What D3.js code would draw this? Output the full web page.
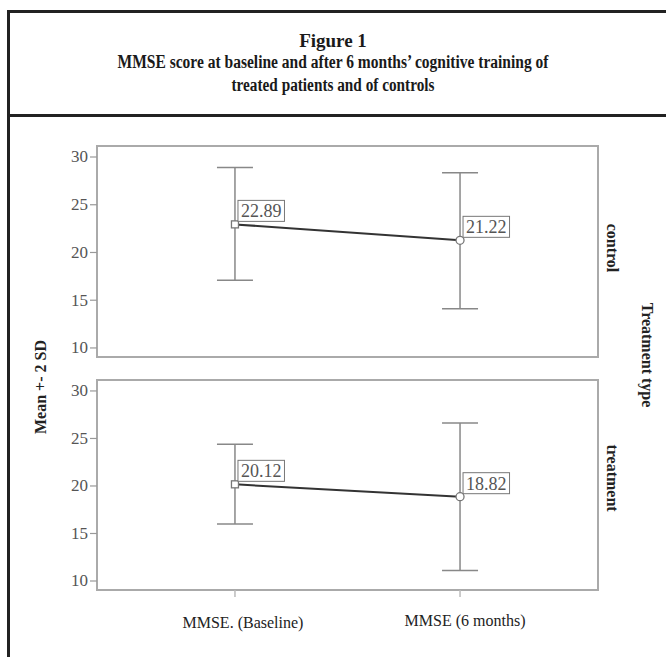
<!DOCTYPE html>
<html>
<head>
<meta charset="utf-8">
<script src="https://cdn.jsdelivr.net/npm/d3@7"></script>
<style>
  html, body { margin: 0; padding: 0; background: #fff; }
  svg { display: block; }
</style>
</head>
<body>
<div id="chart"></div>
<script>
// ---------------- data ----------------
const titleLines = [
  "Figure 1",
  "MMSE score at baseline and after 6 months’ cognitive training of",
  "treated patients and of controls"
];
const categories = ["MMSE. (Baseline)", "MMSE (6 months)"];
const groups = ["control", "treatment"];
const controlMean = [22.89, 21.22];
const controlUpper = [28.84, 28.31];
const controlLower = [17.05, 14.05];
const treatmentMean = [20.12, 18.82];
const treatmentUpper = [24.34, 26.57];
const treatmentLower = [15.95, 11.05];
const yTicks = [10, 15, 20, 25, 30];
const yLabel = "Mean +- 2 SD";
const facetLabel = "Treatment type";

const seriesByGroup = {
  control: { mean: controlMean, upper: controlUpper, lower: controlLower },
  treatment: { mean: treatmentMean, upper: treatmentUpper, lower: treatmentLower }
};

// ---------------- layout ----------------
const SERIF = "'Liberation Serif', 'Times New Roman', serif";
const W = 666, H = 657;
const plotLeft = 97, plotRight = 598;
const panels = [
  { group: "control", top: 146, bottom: 357, labelY: 248 },
  { group: "treatment", top: 380, bottom: 590, labelY: 478 }
];

const svg = d3.select("#chart").append("svg")
  .attr("width", W).attr("height", H);

svg.append("rect").attr("width", W).attr("height", H).attr("fill", "#fff");

// outer frame
svg.append("line").attr("x1", 8.5).attr("x2", W).attr("y1", 11.5).attr("y2", 11.5)
  .attr("stroke", "#222").attr("stroke-width", 3);
svg.append("line").attr("x1", 8.5).attr("x2", 8.5).attr("y1", 10).attr("y2", H)
  .attr("stroke", "#222").attr("stroke-width", 3);
svg.append("line").attr("x1", 8.5).attr("x2", W).attr("y1", 115.5).attr("y2", 115.5)
  .attr("stroke", "#222").attr("stroke-width", 3);

// title
const titleY = [47, 68, 91];
const titleSize = [19, 18.5, 18.5];
const titleFit = [null, 431, 203];
titleLines.forEach((t, i) => {
  const el = svg.append("text")
    .attr("x", 333).attr("y", titleY[i])
    .attr("text-anchor", "middle")
    .style("font-family", SERIF)
    .attr("font-size", titleSize[i]).attr("font-weight", "bold")
    .attr("fill", "#1a1a1a")
    .text(t);
  if (titleFit[i]) el.attr("textLength", titleFit[i]).attr("lengthAdjust", "spacingAndGlyphs");
});

const x = d3.scalePoint().domain(categories).range([plotLeft, plotRight]).padding(0.613);

panels.forEach(p => {
  const s = seriesByGroup[p.group];
  const y = d3.scaleLinear().domain([9, 31.1]).range([p.bottom, p.top]);
  const g = svg.append("g");

  // panel frame
  g.append("rect")
    .attr("x", plotLeft).attr("y", p.top)
    .attr("width", plotRight - plotLeft).attr("height", p.bottom - p.top)
    .attr("fill", "none").attr("stroke", "#aaa").attr("stroke-width", 2);

  // y axis
  const ax = g.append("g").attr("transform", `translate(${plotLeft},0)`)
    .call(d3.axisLeft(y).tickValues(yTicks).tickSize(7).tickPadding(2).tickFormat(d3.format("d")));
  ax.select(".domain").remove();
  ax.selectAll(".tick line").attr("stroke", "#999").attr("stroke-width", 1.2);
  ax.selectAll(".tick text")
    .style("font-family", SERIF)
    .attr("font-size", 17).attr("fill", "#555");

  // error bars
  const eb = g.append("g");
  categories.forEach((c, i) => {
    const cx = x(c);
    eb.append("line").attr("x1", cx).attr("x2", cx)
      .attr("y1", y(s.upper[i])).attr("y2", y(s.lower[i]))
      .attr("stroke", "#888").attr("stroke-width", 1.5);
    [s.upper[i], s.lower[i]].forEach(v => {
      eb.append("line").attr("x1", cx - 18).attr("x2", cx + 18)
        .attr("y1", y(v)).attr("y2", y(v))
        .attr("stroke", "#888").attr("stroke-width", 1.5);
    });
  });

  // mean line
  g.append("path")
    .datum(categories.map((c, i) => [x(c), y(s.mean[i])]))
    .attr("d", d3.line())
    .attr("fill", "none").attr("stroke", "#333").attr("stroke-width", 2);

  // markers and value labels
  categories.forEach((c, i) => {
    const cx = x(c), cy = y(s.mean[i]);
    if (i === 0) {
      g.append("rect").attr("x", cx - 3.5).attr("y", cy - 3.5)
        .attr("width", 7).attr("height", 7)
        .attr("fill", "#fff").attr("stroke", "#777").attr("stroke-width", 1.3);
    } else {
      g.append("circle").attr("cx", cx).attr("cy", cy).attr("r", 4)
        .attr("fill", "#fff").attr("stroke", "#777").attr("stroke-width", 1.3);
    }
    const box = g.append("rect");
    const t = g.append("text")
      .attr("x", cx + 6).attr("y", cy - 7)
      .style("font-family", SERIF)
      .attr("font-size", 18).attr("fill", "#555")
      .text(d3.format(".2f")(s.mean[i]));
    const bb = t.node().getBBox();
    box.attr("x", cx + 3).attr("y", cy - 24)
      .attr("width", bb.width + 6).attr("height", 21)
      .attr("fill", "#fff").attr("stroke", "#777").attr("stroke-width", 1);
  });

  // facet label
  svg.append("text")
    .attr("transform", `translate(612,${p.labelY}) rotate(90)`)
    .attr("text-anchor", "middle").attr("dominant-baseline", "central")
    .style("font-family", SERIF)
    .attr("font-size", 16).attr("font-weight", "bold").attr("fill", "#222")
    .text(p.group);
});

// x tick marks under bottom panel
categories.forEach(c => {
  svg.append("line").attr("x1", x(c)).attr("x2", x(c))
    .attr("y1", 590).attr("y2", 597)
    .attr("stroke", "#bbb").attr("stroke-width", 1.5);
});

// x category labels
const xLabelY = [628, 626];
const xLabelDx = [8, 5];
categories.forEach((c, i) => {
  svg.append("text")
    .attr("x", x(c) + xLabelDx[i]).attr("y", xLabelY[i])
    .attr("text-anchor", "middle")
    .style("font-family", SERIF)
    .attr("font-size", 16).attr("fill", "#222")
    .text(c);
});

// y label
svg.append("text")
  .attr("transform", "translate(40,387) rotate(-90)")
  .attr("text-anchor", "middle").attr("dominant-baseline", "central")
  .style("font-family", SERIF)
  .attr("font-size", 16).attr("font-weight", "bold").attr("fill", "#222")
  .text(yLabel);

// facet title
svg.append("text")
  .attr("transform", "translate(647,355) rotate(90)")
  .attr("text-anchor", "middle").attr("dominant-baseline", "central")
  .style("font-family", SERIF)
  .attr("font-size", 16).attr("font-weight", "bold").attr("fill", "#222")
  .text(facetLabel);
</script>
</body>
</html>
